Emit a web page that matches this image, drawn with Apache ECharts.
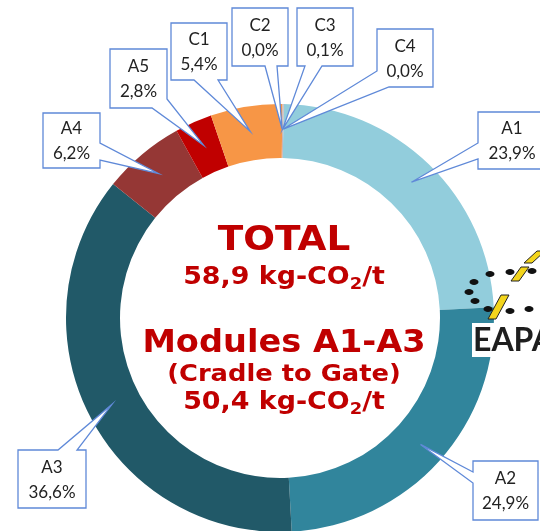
<!DOCTYPE html>
<html>
<head>
<meta charset="utf-8">
<script src="https://cdn.jsdelivr.net/npm/echarts@6/dist/echarts.min.js"></script>
<style>
html, body { margin: 0; padding: 0; background: #fff; }
#main { width: 540px; height: 531px; }
</style>
</head>
<body>
<div id="main"></div>
<script>
// modules of the life cycle, in drawing order (clockwise from the top)
var modules = ['A1', 'A2', 'A3', 'A4', 'A5', 'C1', 'C2', 'C3', 'C4'];
// share of the total, %
var shares = [23.9, 24.9, 36.6, 6.2, 2.8, 5.4, 0.0, 0.1, 0.0];
var colours = ['#92CDDC', '#31859C', '#215968', '#953735', '#C00000', '#F79646', '#E46C0A', '#C9B3B3', '#7F7F7F'];

// centre text
var totalTitle = 'TOTAL';
var totalValue = '58,9';
var scopeTitle = 'Modules A1-A3';
var scopeNote = '(Cradle to Gate)';
var scopeValue = '50,4';
var unitLeft = 'kg-CO', unitSub = '2', unitRight = '/t';

// callout boxes: [x, y, w, h] and the two points where the pointer leaves the box
var callouts = [
  { box: [478, 112, 68, 57], a: ['left', 31], b: ['left', 47] },
  { box: [473, 461, 65, 59], a: ['left', 11], b: ['left', 22] },
  { box: [18, 450, 68, 58], a: ['top', 40], b: ['top', 59] },
  { box: [43, 113, 57, 55], a: ['right', 30], b: ['right', 47] },
  { box: [110, 49, 57, 59], a: ['bottom', 42], b: ['right', 50] },
  { box: [171, 23, 56, 57], a: ['bottom', 23], b: ['bottom', 47] },
  { box: [232, 8, 56, 58], a: ['bottom', 33], b: ['bottom', 45] },
  { box: [297, 8, 56, 58], a: ['bottom', 8], b: ['bottom', 25] },
  { box: [377, 29, 56, 58], a: ['left', 42], b: ['bottom', 12] }
];

var myChart = echarts.init(document.getElementById('main'));

var pieData = [];
for (var i = 0; i < modules.length; i++) {
  pieData.push({ name: modules[i], value: shares[i], itemStyle: { color: colours[i] } });
}

myChart.setOption({
  animation: false,
  series: [{
    type: 'pie',
    center: [280, 318],
    radius: [160, 214],
    startAngle: 89,
    clockwise: true,
    label: { show: false },
    labelLine: { show: false },
    emphasis: { disabled: true },
    silent: true,
    data: pieData
  }]
});

function fmt(v) {
  return v.toFixed(1).replace('.', ',') + '%';
}

// position along the box outline, clockwise from the top-left corner
function perim(box, side, off) {
  var w = box[2], h = box[3];
  if (side == 'top') return off;
  if (side == 'right') return w + off;
  if (side == 'bottom') return w + h + (w - off);
  return 2 * w + h + (h - off);
}
function ptAt(box, t) {
  var x = box[0], y = box[1], w = box[2], h = box[3];
  if (t <= w) return [x + t, y];
  if (t <= w + h) return [x + w, y + t - w];
  if (t <= 2 * w + h) return [x + w - (t - w - h), y + h];
  return [x, y + h - (t - 2 * w - h)];
}
function calloutShape(box, t1, t2, tip) {
  var w = box[2], h = box[3], P = 2 * (w + h);
  var corners = [0, w, w + h, 2 * w + h];
  var pts = [ptAt(box, t2)];
  var end = t1 + P;
  var list = [];
  corners.forEach(function (c) {
    var cc = c <= t2 ? c + P : c;
    if (cc > t2 && cc < end) list.push(cc);
  });
  list.sort(function (p, q) { return p - q; });
  list.forEach(function (c) { pts.push(ptAt(box, c % P)); });
  pts.push(ptAt(box, t1));
  pts.push(tip);
  return pts;
}

var data = myChart.getModel().getSeriesByIndex(0).getData();
var graphics = [];

for (var i = 0; i < modules.length; i++) {
  var lay = data.getItemLayout(i);
  var mid = (lay.startAngle + lay.endAngle) / 2;
  var rr = (lay.r + lay.r0) / 2 + 2;
  var tip = [lay.cx + rr * Math.cos(mid), lay.cy + rr * Math.sin(mid)];
  var c = callouts[i];
  var t1 = perim(c.box, c.a[0], c.a[1]);
  var t2 = perim(c.box, c.b[0], c.b[1]);
  if (t1 > t2) { var tmp = t1; t1 = t2; t2 = tmp; }
  graphics.push({
    type: 'polygon',
    z: 100,
    shape: { points: calloutShape(c.box, t1, t2, tip) },
    style: { fill: '#fff', stroke: '#5F89D8', lineWidth: 1.3 }
  });
  graphics.push({
    type: 'text',
    z: 101,
    x: c.box[0] + c.box[2] / 2,
    y: c.box[1] + c.box[3] / 2 + 1,
    style: {
      text: modules[i] + '\n' + fmt(shares[i]),
      align: 'center',
      verticalAlign: 'middle',
      font: '17px Lato',
      lineHeight: 25,
      fill: '#222'
    }
  });
}

// text in the middle of the ring
var red = '#C00000';
function centreText(y, size, text, sx) {
  return {
    type: 'text', z: 100, x: 284, y: y, scaleX: sx || 1.1,
    style: {
      text: text, align: 'center', verticalAlign: 'middle',
      font: 'bold ' + size + 'px "DejaVu Sans"', fill: red
    }
  };
}
function unitText(y, value) {
  return {
    type: 'text', z: 100, x: 284, y: y, scaleX: 1.12,
    style: {
      text: '{m|' + value + ' ' + unitLeft + '}{s|' + unitSub + '}{m|' + unitRight + '}',
      align: 'center', verticalAlign: 'middle',
      rich: {
        m: { font: 'bold 24px "DejaVu Sans"', fill: red, lineHeight: 30 },
        s: { font: 'bold 16px "DejaVu Sans"', fill: red, lineHeight: 18, verticalAlign: 'bottom' }
      }
    }
  };
}
graphics.push(centreText(241, 34, totalTitle, 1.1));
graphics.push(unitText(278, totalValue));
graphics.push(centreText(344, 32, scopeTitle, 1.05));
graphics.push(centreText(375, 23, scopeNote, 1.12));
graphics.push(unitText(403, scopeValue));

// logo in the right margin
var logo = [
  { type: 'rect', z: 90, shape: { x: 472, y: 323, width: 70, height: 34 }, style: { fill: '#fff' } },
  { type: 'text', z: 91, x: 473, y: 341, style: { text: 'EAPA', font: 'bold 32px Lato', fill: '#1E1E1E', verticalAlign: 'middle' } }
];
var dots = [[490, 274], [510, 272], [474, 282], [469, 292], [475, 301], [488, 309], [510, 311], [529, 309], [532, 271]];
dots.forEach(function (d) {
  logo.push({ type: 'ellipse', z: 91, shape: { cx: d[0], cy: d[1], rx: 4.5, ry: 3 }, style: { fill: '#111' } });
});
var dashes = [[[488, 319], [496, 319], [509, 295], [501, 295]], [[511, 281], [519, 281], [529, 267], [521, 267]], [[524, 263], [532, 263], [545, 251], [537, 251]]];
dashes.forEach(function (p) {
  logo.push({ type: 'polygon', z: 92, shape: { points: p }, style: { fill: '#F3D51C', stroke: '#222', lineWidth: 1 } });
});

myChart.setOption({ graphic: graphics.concat(logo) });
</script>
</body>
</html>
